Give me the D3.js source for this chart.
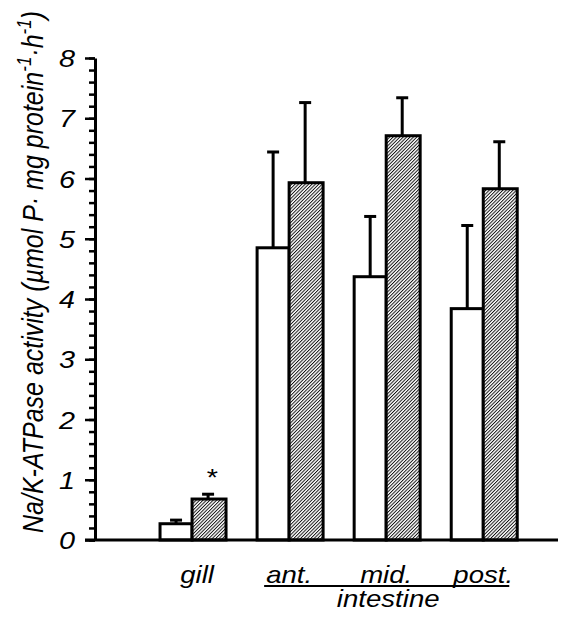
<!DOCTYPE html>
<html>
<head>
<meta charset="utf-8">
<script src="https://cdn.jsdelivr.net/npm/d3@7"></script>
<style>
  body { margin: 0; background: #fff; }
  text { font-family: "Liberation Sans", Arial, sans-serif; font-style: italic; }
</style>
</head>
<body>
<svg id="chart"></svg>
<script>
// values
var groups = ["gill", "ant.", "mid.", "post."];
var controlMeans = [0.27, 4.85, 4.37, 3.84];
var controlSE = [0.06, 1.59, 1.0, 1.38];
var treatedMeans = [0.68, 5.93, 6.71, 5.83];
var treatedSE = [0.08, 1.33, 0.63, 0.78];
var yTicks = [0, 1, 2, 3, 4, 5, 6, 7, 8];
var minorTicks = d3.range(0, 8.01, 0.2);

var width = 578;
var height = 617;
var margin = { top: 58, right: 20, left: 95, bottom: 77 };
var stretch = 1.2; // the original figure's text is wider than it is tall
var x, y, svg;

function createScales() {
  // group i sits at position i + 1, bars either side of it
  x = d3.scaleLinear()
    .domain([0, 4.77])
    .range([margin.left, width - margin.right]);
  y = d3.scaleLinear()
    .domain([0, 8])
    .range([height - margin.bottom, margin.top]);
}

function wideText(px, py, size, str) {
  return svg.append("text")
    .attr("transform", "translate(" + px + "," + py + ") scale(" + stretch + ",1)")
    .style("text-anchor", "middle")
    .attr("font-size", size)
    .text(str);
}

function drawChart() {
  svg = d3.select("#chart")
    .attr("width", width)
    .attr("height", height);

  var pat = svg.append("defs").append("pattern")
    .attr("id", "hatch")
    .attr("patternUnits", "userSpaceOnUse")
    .attr("width", 2.4)
    .attr("height", 10)
    .attr("patternTransform", "rotate(45)");
  pat.append("rect").attr("width", 2.4).attr("height", 10).attr("fill", "#fff");
  pat.append("line")
    .attr("x1", 0.5).attr("x2", 0.5)
    .attr("y1", 0).attr("y2", 10)
    .attr("stroke", "#000")
    .attr("stroke-width", 0.9);

  var barW = 0.33;

  // error bars first so the bar outline sits on top of them
  function errorBars(means, se, offset) {
    var g = svg.append("g");
    g.selectAll("line.stem")
      .data(means)
      .enter()
        .append("line")
          .attr("x1", function(d, i) { return x(i + 1 + offset); })
          .attr("x2", function(d, i) { return x(i + 1 + offset); })
          .attr("y1", function(d) { return y(d); })
          .attr("y2", function(d, i) { return y(d + se[i]); })
          .attr("stroke", "#000")
          .attr("stroke-width", 3);
    g.selectAll("line.cap")
      .data(means)
      .enter()
        .append("line")
          .attr("x1", function(d, i) { return x(i + 1 + offset) - 6; })
          .attr("x2", function(d, i) { return x(i + 1 + offset) + 6; })
          .attr("y1", function(d, i) { return y(d + se[i]); })
          .attr("y2", function(d, i) { return y(d + se[i]); })
          .attr("stroke", "#000")
          .attr("stroke-width", 3);
  }
  errorBars(controlMeans, controlSE, -barW / 2);
  errorBars(treatedMeans, treatedSE, barW / 2);

  svg.append("g").selectAll("rect")
    .data(controlMeans)
    .enter()
      .append("rect")
        .attr("x", function(d, i) { return x(i + 1 - barW); })
        .attr("y", function(d) { return y(d); })
        .attr("width", function() { return x(barW) - x(0); })
        .attr("height", function(d) { return y(0) - y(d); })
        .attr("fill", "#fff")
        .attr("stroke", "#000")
        .attr("stroke-width", 3);

  svg.append("g").selectAll("rect")
    .data(treatedMeans)
    .enter()
      .append("rect")
        .attr("x", function(d, i) { return x(i + 1); })
        .attr("y", function(d) { return y(d); })
        .attr("width", function() { return x(barW + 0.02) - x(0); })
        .attr("height", function(d) { return y(0) - y(d); })
        .attr("fill", "url(#hatch)")
        .attr("stroke", "#000")
        .attr("stroke-width", 3);

  // y axis with minor ticks
  var minor = svg.append("g")
    .attr("transform", "translate(" + margin.left + ",0)")
    .call(d3.axisLeft(y).tickValues(minorTicks).tickSize(6).tickFormat(""));
  minor.select(".domain").remove();
  minor.selectAll("line").attr("stroke-width", 2.5);

  var yAxis = svg.append("g")
    .attr("transform", "translate(" + margin.left + ",0)")
    .call(d3.axisLeft(y).tickValues(yTicks).tickSize(10).tickSizeOuter(0)
      .tickFormat(d3.format("d")));
  yAxis.select(".domain").attr("stroke-width", 3);
  yAxis.selectAll("line").attr("stroke-width", 2.5);
  yAxis.selectAll("text")
    .attr("x", -20 / stretch)
    .attr("dy", "0.36em")
    .attr("transform", "scale(" + stretch + ",1)")
    .attr("font-size", 24)
    .attr("font-family", "Liberation Sans, Arial, sans-serif")
    .attr("font-style", "italic")
    .attr("fill", "#000");

  // baseline
  svg.append("line")
    .attr("x1", margin.left - 10)
    .attr("x2", width - margin.right)
    .attr("y1", y(0))
    .attr("y2", y(0))
    .attr("stroke", "#000")
    .attr("stroke-width", 3);

  // significance mark over the gill treated bar
  wideText(x(1 + barW / 2) + 3, y(treatedMeans[0] + treatedSE[0]) - 8, 24, "*");

  // group labels
  groups.forEach(function(d, i) {
    wideText(x(i + 1) + (i == 0 ? 5 : 0), 583, 23, d);
  });

  svg.append("line")
    .attr("x1", x(2) - 25)
    .attr("x2", x(4) + 26)
    .attr("y1", 586)
    .attr("y2", 586)
    .attr("stroke", "#000")
    .attr("stroke-width", 1.8);

  wideText((x(2) + x(4)) / 2 + 2, 607, 23, "intestine");

  var label = svg.append("text")
    .attr("transform", "translate(43,272) scale(" + stretch + ",1) rotate(-90)")
    .style("text-anchor", "middle")
    .attr("font-size", 25);
  label.append("tspan").text("Na/K-ATPase activity (\u00b5mol P\u00b7 mg protein");
  label.append("tspan").attr("dy", -10).attr("font-size", 17).text("-1");
  label.append("tspan").attr("dy", 10).text("\u00b7h");
  label.append("tspan").attr("dy", -10).attr("font-size", 17).text("-1");
  label.append("tspan").attr("dy", 10).text(")");
}

createScales();
drawChart();
</script>
</body>
</html>
